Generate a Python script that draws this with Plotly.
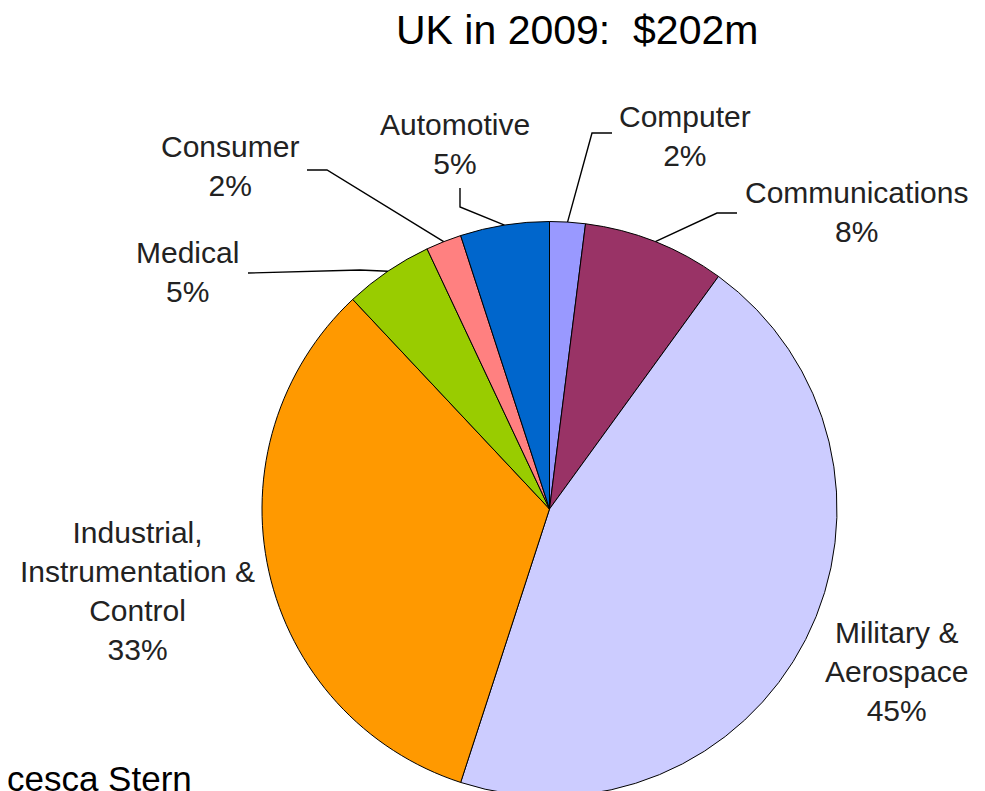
import math
import plotly.graph_objects as go

# ---- data ----
sectors = ["Computer", "Communications", "Military &<br>Aerospace",
           "Industrial,<br>Instrumentation &<br>Control", "Medical",
           "Consumer", "Automotive"]
shares = [2, 8, 45, 33, 5, 2, 5]
colors = ["#9999FF", "#993366", "#CCCCFF", "#FF9900", "#99CC00", "#FF8080", "#0066CC"]
title_text = "UK in 2009:&nbsp;&nbsp;$202m"
credit_text = "Francesca Stern"

# ---- layout constants (page pixels) ----
OFF = 8                      # default page body margin
W, H = 977, 792
CX, CY, R = 549.5, 509, 287.5

def px(x):
    return (x - OFF) / W

def py(y):
    return 1 - (y - OFF) / H

fig = go.Figure(go.Pie(
    labels=sectors, values=shares, sort=False, direction="clockwise", rotation=0,
    marker=dict(colors=colors, line=dict(color="#000000", width=1)),
    textinfo="none", hoverinfo="label+percent", showlegend=False,
    domain=dict(x=[px(CX - R), px(CX + R)], y=[py(CY + R), py(CY - R)]),
))

# label centres and leader-line elbows (layout positions)
label_pos = {
    0: (685, 136, [(612, 133), (592, 133)]),
    1: (856, 212, [(737, 213), (717, 213)]),
    2: (896, 671, None),
    3: (137, 591, None),
    4: (187, 272, [(248, 273), (360, 270)]),
    5: (230, 166, [(307, 170), (327, 170)]),
    6: (455, 144, [(460, 188), (460, 207)]),
}

total = sum(shares)
cum = 0
annotations = []
shapes = []
for i, (name, v) in enumerate(zip(sectors, shares)):
    mid = (cum + v / 2) / total * 2 * math.pi
    cum += v
    ex = CX + R * math.sin(mid)
    ey = CY - R * math.cos(mid)
    lx, ly, elbow = label_pos[i]
    pct = round(v / total * 100)
    annotations.append(dict(
        x=px(lx), y=py(ly), xref="paper", yref="paper",
        text=f"{name}<br>{pct}%", showarrow=False,
        font=dict(family="Liberation Sans, Arial", size=30, color="#222222"),
        xanchor="center", yanchor="middle", align="center",
    ))
    if elbow:
        pts = elbow + [(ex, ey)]
        path = "M " + " L ".join(f"{px(a):.5f},{py(b):.5f}" for a, b in pts)
        shapes.append(dict(type="path", xref="paper", yref="paper", path=path,
                           line=dict(color="#000000", width=1.4)))

annotations.append(dict(
    x=px(577), y=py(30), xref="paper", yref="paper", text=title_text,
    showarrow=False, font=dict(family="Liberation Sans, Arial", size=41, color="#000000"),
    xanchor="center", yanchor="middle",
))
annotations.append(dict(
    x=px(194), y=py(778), xref="paper", yref="paper", text=credit_text,
    showarrow=False, font=dict(family="Liberation Sans, Arial", size=35, color="#000000"),
    xanchor="right", yanchor="middle",
))

fig.update_layout(
    width=W, height=H, margin=dict(l=0, r=0, t=0, b=0),
    paper_bgcolor="white", plot_bgcolor="white",
    annotations=annotations, shapes=shapes,
)

fig.write_html("out.html")
